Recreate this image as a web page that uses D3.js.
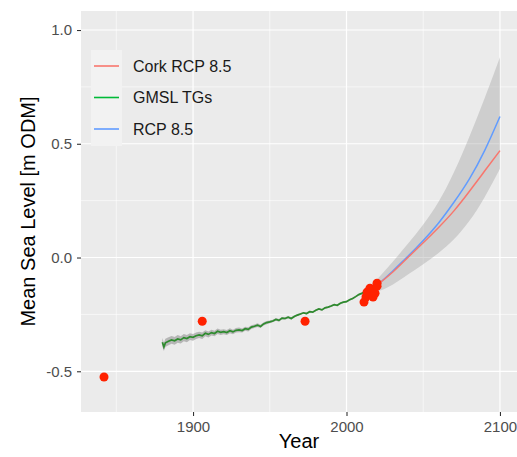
<!DOCTYPE html>
<html>
<head>
<meta charset="utf-8">
<script src="https://cdn.jsdelivr.net/npm/d3@7"></script>
<style>
    body { margin: 0; background: #fff; }
    svg { display: block; font-family: "Liberation Sans", Arial, sans-serif; }
</style>
</head>
<body>
<svg id="chart"></svg>
<script>
// GMSL from tide gauges
const gmslYear = [1880, 1881, 1882, 1884, 1886, 1888, 1890, 1892, 1894, 1896, 1898,
    1900, 1902, 1904, 1906, 1908, 1910, 1912, 1914, 1916, 1918,
    1920, 1922, 1924, 1926, 1928, 1930, 1932, 1934, 1936, 1938,
    1940, 1942, 1944, 1946, 1948, 1950, 1952, 1954, 1956, 1958,
    1960, 1962, 1964, 1966, 1968, 1970, 1972, 1974, 1976, 1978,
    1980, 1982, 1984, 1986, 1988, 1990, 1992, 1994, 1996, 1998,
    2000, 2002, 2004, 2006, 2008, 2010, 2012];
const gmslLevel = [-0.372, -0.393, -0.375, -0.368, -0.362, -0.366, -0.358, -0.362, -0.352, -0.356, -0.348,
    -0.351, -0.344, -0.340, -0.344, -0.333, -0.338, -0.330, -0.334, -0.324, -0.329,
    -0.326, -0.330, -0.322, -0.327, -0.320, -0.318, -0.321, -0.313, -0.316, -0.306,
    -0.302, -0.297, -0.303, -0.292, -0.286, -0.283, -0.279, -0.272, -0.276, -0.266,
    -0.268, -0.262, -0.268, -0.259, -0.253, -0.248, -0.243, -0.246, -0.238, -0.240,
    -0.232, -0.226, -0.230, -0.221, -0.218, -0.213, -0.207, -0.210, -0.201, -0.196,
    -0.194, -0.186, -0.180, -0.172, -0.163, -0.157, -0.150];
const gmslSe = [0.018, 0.018, 0.018, 0.018, 0.017, 0.017, 0.017, 0.016, 0.016, 0.016, 0.015,
    0.015, 0.014, 0.014, 0.014, 0.013, 0.013, 0.013, 0.012, 0.012, 0.012,
    0.011, 0.011, 0.011, 0.010, 0.010, 0.010, 0.009, 0.009, 0.009, 0.008,
    0.008, 0.008, 0.007, 0.007, 0.007, 0.006, 0.006, 0.006, 0.006, 0.005,
    0.005, 0.005, 0.005, 0.005, 0.005, 0.004, 0.004, 0.004, 0.004, 0.004,
    0.004, 0.004, 0.004, 0.004, 0.004, 0.004, 0.004, 0.004, 0.004, 0.004,
    0.004, 0.004, 0.004, 0.004, 0.004, 0.004, 0.004];

// projections
const projYear = [2010, 2020, 2030, 2040, 2050, 2060, 2070, 2080, 2090, 2100];
const corkLevel = [-0.165, -0.12, -0.065, 0.0, 0.065, 0.132, 0.205, 0.29, 0.38, 0.47];
const rcpLevel = [-0.165, -0.12, -0.06, 0.005, 0.075, 0.152, 0.243, 0.345, 0.47, 0.62];
const rcpLow = [-0.165, -0.15, -0.12, -0.075, -0.03, 0.02, 0.08, 0.16, 0.265, 0.39];
const rcpHigh = [-0.165, -0.095, -0.02, 0.06, 0.145, 0.245, 0.375, 0.53, 0.70, 0.88];

// Cork observations
const obsYear = [1842, 1906, 1973, 2011.4, 2012.7, 2013.4, 2014, 2015.3, 2017.3, 2018.6, 2019.9, 2019.9];
const obsLevel = [-0.525, -0.28, -0.28, -0.196, -0.174, -0.152, -0.157, -0.135, -0.174, -0.157, -0.113, -0.126];

const xTicks = [1900, 2000, 2100];
const xMinor = [1850, 1950, 2050];
const yTicks = [-0.5, 0.0, 0.5, 1.0];
const yMinor = [-0.25, 0.25, 0.75];

const legendLabels = ['Cork RCP 8.5', 'GMSL TGs', 'RCP 8.5'];
const legendColors = ['#F8766D', '#00BA38', '#619CFF'];

const width = 517;
const height = 457;
const panel = { left: 81, right: 517, top: 11, bottom: 412 };

const x = d3.scaleLinear().domain([1827, 2111.1]).range([panel.left, panel.right]);
const y = d3.scaleLinear().domain([-0.679, 1.0836]).range([panel.bottom, panel.top]);

const svg = d3.select('#chart').attr('width', width).attr('height', height);

// panel background + grid
svg.append('rect')
    .attr('x', panel.left).attr('y', panel.top)
    .attr('width', panel.right - panel.left).attr('height', panel.bottom - panel.top)
    .attr('fill', '#ebebeb');

const grid = svg.append('g');
grid.selectAll('.xminor').data(xMinor).enter().append('line')
    .attr('x1', d => x(d)).attr('x2', d => x(d))
    .attr('y1', panel.top).attr('y2', panel.bottom)
    .attr('stroke', '#fff').attr('stroke-width', 0.6);
grid.selectAll('.yminor').data(yMinor).enter().append('line')
    .attr('y1', d => y(d)).attr('y2', d => y(d))
    .attr('x1', panel.left).attr('x2', panel.right)
    .attr('stroke', '#fff').attr('stroke-width', 0.6);
grid.selectAll('.xmajor').data(xTicks).enter().append('line')
    .attr('x1', d => x(d)).attr('x2', d => x(d))
    .attr('y1', panel.top).attr('y2', panel.bottom)
    .attr('stroke', '#fff').attr('stroke-width', 1.2);
grid.selectAll('.ymajor').data(yTicks).enter().append('line')
    .attr('y1', d => y(d)).attr('y2', d => y(d))
    .attr('x1', panel.left).attr('x2', panel.right)
    .attr('stroke', '#fff').attr('stroke-width', 1.2);

// projection ribbon
const proj = projYear.map((yr, i) => ({ year: yr, cork: corkLevel[i], rcp: rcpLevel[i], lo: rcpLow[i], hi: rcpHigh[i] }));
svg.append('path')
    .datum(proj)
    .attr('d', d3.area().curve(d3.curveNatural)
        .x(d => x(d.year)).y0(d => y(d.lo)).y1(d => y(d.hi)))
    .attr('fill', '#999').attr('fill-opacity', 0.35);

svg.append('path')
    .datum(proj)
    .attr('d', d3.line().curve(d3.curveNatural).x(d => x(d.year)).y(d => y(d.rcp)))
    .attr('fill', 'none').attr('stroke', '#619CFF').attr('stroke-width', 1.5);

svg.append('path')
    .datum(proj)
    .attr('d', d3.line().curve(d3.curveNatural).x(d => x(d.year)).y(d => y(d.cork)))
    .attr('fill', 'none').attr('stroke', '#F8766D').attr('stroke-width', 1.5);

// GMSL line with its uncertainty
const gmsl = gmslYear.map((yr, i) => ({ year: yr, level: gmslLevel[i], se: gmslSe[i] }));
svg.append('path')
    .datum(gmsl)
    .attr('d', d3.area().x(d => x(d.year)).y0(d => y(d.level - d.se)).y1(d => y(d.level + d.se)))
    .attr('fill', '#8a8a8a').attr('fill-opacity', 0.55);
svg.append('path')
    .datum(gmsl)
    .attr('d', d3.line().x(d => x(d.year)).y(d => y(d.level)))
    .attr('fill', 'none').attr('stroke', '#2e8b2e').attr('stroke-width', 1.7);

// observed points
svg.selectAll('.obs').data(obsYear.map((yr, i) => ({ year: yr, level: obsLevel[i] })))
    .enter().append('circle')
    .attr('cx', d => x(d.year)).attr('cy', d => y(d.level))
    .attr('r', 4.5)
    .attr('fill', '#ff2200');

// axes
const xAxis = svg.append('g')
    .attr('transform', `translate(0,${panel.bottom})`)
    .call(d3.axisBottom(x).tickValues(xTicks).tickFormat(d3.format('d')).tickSize(4).tickPadding(5));
const yAxis = svg.append('g')
    .attr('transform', `translate(${panel.left},0)`)
    .call(d3.axisLeft(y).tickValues(yTicks).tickFormat(d => d.toFixed(1)).tickSize(4).tickPadding(5));

[xAxis, yAxis].forEach(a => {
    a.select('.domain').remove();
    a.selectAll('.tick line').attr('stroke', '#333').attr('stroke-width', 1.1);
    a.selectAll('.tick text')
        .attr('fill', '#4d4d4d')
        .style('font-size', '15px')
        .style('font-family', '"Liberation Sans", Arial, sans-serif');
});

// axis titles
svg.append('text')
    .attr('x', (panel.left + panel.right) / 2)
    .attr('y', 448)
    .style('text-anchor', 'middle')
    .style('font-size', '20px')
    .attr('fill', '#000')
    .text('Year');

svg.append('text')
    .attr('transform', `translate(35,${(panel.top + panel.bottom) / 2}) rotate(-90)`)
    .style('text-anchor', 'middle')
    .style('font-size', '20px')
    .attr('fill', '#000')
    .text('Mean Sea Level [m ODM]');

// legend
const legend = svg.append('g');
legend.append('rect')
    .attr('x', 91).attr('y', 50).attr('width', 31).attr('height', 96)
    .attr('fill', '#f2f2f2');
const items = legend.selectAll('.item').data(legendLabels).enter().append('g')
    .attr('transform', (d, i) => `translate(0,${66 + i * 31.5})`);
items.append('line')
    .attr('x1', 94).attr('x2', 119)
    .attr('stroke', (d, i) => legendColors[i])
    .attr('stroke-width', 1.6);
items.append('text')
    .attr('x', 133).attr('y', 5.6)
    .style('font-size', '16px')
    .attr('fill', '#1a1a1a')
    .text(d => d);
</script>
</body>
</html>
